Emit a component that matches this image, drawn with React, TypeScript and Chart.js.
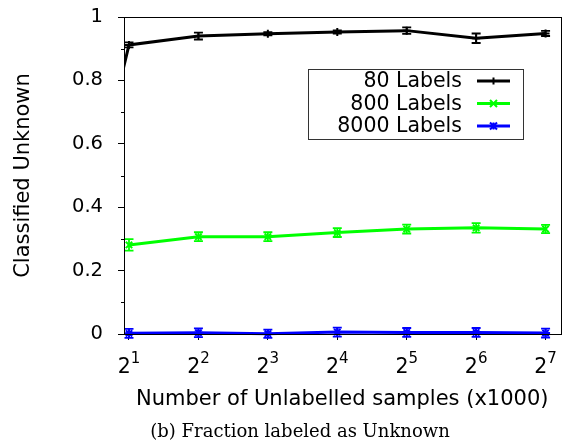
import React, { useEffect, useRef } from "react";
import { Chart, registerables } from "chart.js";

Chart.register(...registerables);

// ---- data ----
const xExponents = [1, 2, 3, 4, 5, 6, 7];
const xTickBase = "2";
const xTickExponents = ["1", "2", "3", "4", "5", "6", "7"];
const yTickValues = [0, 0.1, 0.2, 0.3, 0.4, 0.5, 0.6, 0.7, 0.8, 0.9, 1];
const yTickLabels = ["0", "", "0.2", "", "0.4", "", "0.6", "", "0.8", "", "1"];
const seriesNames = ["80 Labels", "800 Labels", "8000 Labels"];

const x80 = [0, 1, 2, 3, 4, 5, 6, 7];
const labels80 = [0, 0.912, 0.94, 0.947, 0.953, 0.957, 0.933, 0.948];
const err80 = [0, 0.008, 0.011, 0.005, 0.005, 0.01, 0.015, 0.008];

const labels800 = [0.281, 0.307, 0.307, 0.32, 0.331, 0.335, 0.331];
const err800 = [0.018, 0.014, 0.014, 0.014, 0.014, 0.015, 0.013];

const labels8000 = [0.002, 0.004, 0.001, 0.006, 0.005, 0.005, 0.003];
const err8000 = [0.014, 0.014, 0.013, 0.014, 0.014, 0.014, 0.014];

const xTitle = "Number of Unlabelled samples (x1000)";
const yTitle = "Classified Unknown";
const caption = "(b) Fraction labeled as Unknown";

const SANS = "'DejaVu Sans', Verdana, sans-serif";
const SERIF = "'DejaVu Serif', serif";

const errorBars = [err80, err800, err8000];

const toPoints = (xs: number[], ys: number[]) => ys.map((y, i) => ({ x: xs[i], y }));

const errorBarPlugin = {
  id: "errorBars",
  afterDatasetsDraw(chart: any) {
    const { ctx, chartArea, scales } = chart;
    const xs = scales.x;
    const ys = scales.y;
    ctx.save();
    ctx.beginPath();
    ctx.rect(chartArea.left, chartArea.top - 6, chartArea.right - chartArea.left + 8, chartArea.bottom - chartArea.top + 14);
    ctx.clip();
    chart.data.datasets.forEach((ds: any, di: number) => {
      const errs = errorBars[di];
      ctx.strokeStyle = ds.borderColor;
      ctx.lineWidth = 1.8;
      ds.data.forEach((p: any, i: number) => {
        const e = errs[i];
        if (!e) return;
        if (p.x < xs.min || p.x > xs.max) return;
        const px = xs.getPixelForValue(p.x);
        const y1 = ys.getPixelForValue(p.y - e);
        const y2 = ys.getPixelForValue(p.y + e);
        ctx.beginPath();
        ctx.moveTo(px, y1);
        ctx.lineTo(px, y2);
        ctx.moveTo(px - 4.5, y1);
        ctx.lineTo(px + 4.5, y1);
        ctx.moveTo(px - 4.5, y2);
        ctx.lineTo(px + 4.5, y2);
        ctx.stroke();
      });
    });
    ctx.restore();
  },
};

const drawMarker = (ctx: any, style: string, x: number, y: number, r: number) => {
  ctx.beginPath();
  if (style === "cross") {
    ctx.moveTo(x - r, y);
    ctx.lineTo(x + r, y);
    ctx.moveTo(x, y - r);
    ctx.lineTo(x, y + r);
  } else if (style === "crossRot") {
    ctx.moveTo(x - r, y - r);
    ctx.lineTo(x + r, y + r);
    ctx.moveTo(x - r, y + r);
    ctx.lineTo(x + r, y - r);
  } else {
    ctx.moveTo(x - r, y);
    ctx.lineTo(x + r, y);
    ctx.moveTo(x, y - r);
    ctx.lineTo(x, y + r);
    ctx.moveTo(x - r, y - r);
    ctx.lineTo(x + r, y + r);
    ctx.moveTo(x - r, y + r);
    ctx.lineTo(x + r, y - r);
  }
  ctx.stroke();
};

const frameLegendPlugin = {
  id: "frameLegend",
  afterDraw(chart: any) {
    const { ctx, chartArea, scales } = chart;
    ctx.save();
    // full border box
    ctx.strokeStyle = "#000";
    ctx.lineWidth = 1;
    ctx.strokeRect(
      Math.round(chartArea.left) + 0.5,
      Math.round(chartArea.top) + 0.5,
      Math.round(chartArea.right - chartArea.left),
      Math.round(chartArea.bottom - chartArea.top)
    );

    // minor y ticks (shorter)
    ctx.beginPath();
    yTickValues.forEach((v, i) => {
      if (yTickLabels[i] !== "") return;
      const py = Math.round(scales.y.getPixelForValue(v)) + 0.5;
      ctx.moveTo(chartArea.left - 3, py);
      ctx.lineTo(chartArea.left, py);
    });
    ctx.stroke();

    // x tick labels: base with superscript exponent
    ctx.fillStyle = "#000";
    ctx.textBaseline = "alphabetic";
    ctx.textAlign = "left";
    xExponents.forEach((v, i) => {
      const px = scales.x.getPixelForValue(v);
      ctx.font = `20.5px ${SANS}`;
      const bw = ctx.measureText(xTickBase).width;
      ctx.font = `15px ${SANS}`;
      const ew = ctx.measureText(xTickExponents[i]).width;
      const start = px - (bw + ew) / 2;
      ctx.font = `20.5px ${SANS}`;
      ctx.fillText(xTickBase, start, chartArea.bottom + 39);
      ctx.font = `15px ${SANS}`;
      ctx.fillText(xTickExponents[i], start + bw, chartArea.bottom + 29);
    });

    // legend
    const boxL = chartArea.left + 184;
    const boxT = chartArea.top + 52;
    const boxW = 215;
    const boxH = 70;
    ctx.strokeStyle = "#333";
    ctx.strokeRect(Math.round(boxL) + 0.5, Math.round(boxT) + 0.5, boxW, boxH);
    ctx.font = `20.5px ${SANS}`;
    ctx.fillStyle = "#000";
    ctx.textAlign = "right";
    ctx.textBaseline = "middle";
    chart.data.datasets.forEach((ds: any, i: number) => {
      const y = boxT + 12 + i * 22.5;
      ctx.fillText(ds.label, boxL + 154, y + 1);
      ctx.strokeStyle = ds.borderColor;
      ctx.lineWidth = 3;
      ctx.beginPath();
      ctx.moveTo(boxL + 169, y);
      ctx.lineTo(boxL + 202, y);
      ctx.stroke();
      ctx.lineWidth = 2;
      drawMarker(ctx, ds.pointStyle, boxL + 185.5, y, 3.5);
    });

    // caption
    ctx.font = `18px ${SERIF}`;
    ctx.textAlign = "center";
    ctx.textBaseline = "middle";
    ctx.fillStyle = "#000";
    ctx.fillText(caption, 300, chart.height - 12);
    ctx.restore();
  },
};

const datasetClip = { left: 0, top: 6, right: 8, bottom: 8 };

export default function App() {
  const ref = useRef<HTMLCanvasElement | null>(null);

  useEffect(() => {
    if (!ref.current) return;
    const chart = new Chart(ref.current, {
      type: "line",
      data: {
        datasets: [
          {
            label: seriesNames[0],
            data: toPoints(x80, labels80),
            borderColor: "#000000",
            backgroundColor: "#000000",
            borderWidth: 3,
            pointStyle: "cross",
            pointRadius: 4,
            pointBorderWidth: 2,
            clip: datasetClip,
          },
          {
            label: seriesNames[1],
            data: toPoints(xExponents, labels800),
            borderColor: "#00ff00",
            backgroundColor: "#00ff00",
            borderWidth: 3,
            pointStyle: "crossRot",
            pointRadius: 4.5,
            pointBorderWidth: 2,
            clip: datasetClip,
          },
          {
            label: seriesNames[2],
            data: toPoints(xExponents, labels8000),
            borderColor: "#0000ff",
            backgroundColor: "#0000ff",
            borderWidth: 3,
            pointStyle: "star",
            pointRadius: 4.5,
            pointBorderWidth: 2,
            clip: datasetClip,
          },
        ],
      },
      options: {
        animation: false,
        responsive: false,
        layout: { padding: { top: 17, right: 5, left: 0, bottom: 30 } },
        plugins: {
          legend: { display: false },
          tooltip: { enabled: false },
          title: { display: false },
        },
        scales: {
          x: {
            type: "linear",
            min: 0.928,
            max: 7.215,
            afterBuildTicks: (s: any) => {
              s.ticks = xExponents.map((v) => ({ value: v }));
            },
            afterFit: (s: any) => {
              s.height = 80;
              s.paddingLeft = 0;
              s.paddingRight = 0;
            },
            ticks: { display: false, autoSkip: false, maxRotation: 0 },
            grid: { drawOnChartArea: false, tickLength: 6, color: "#000", tickColor: "#000" },
            border: { color: "#000", width: 1 },
            title: {
              display: true,
              text: xTitle,
              color: "#000",
              font: { family: SANS, size: 21 },
              padding: 2,
            },
          },
          y: {
            type: "linear",
            min: 0,
            max: 1,
            afterBuildTicks: (s: any) => {
              s.ticks = yTickValues.map((v) => ({ value: v }));
            },
            afterFit: (s: any) => {
              s.width = 124;
              s.paddingTop = 0;
              s.paddingBottom = 0;
            },
            ticks: {
              callback: (v: any, i: number) => yTickLabels[i],
              color: "#000",
              font: { family: SANS, size: 19.5 },
              padding: 15,
              autoSkip: false,
            },
            grid: {
              drawOnChartArea: false,
              tickLength: 6,
              color: "#000",
              tickColor: (c: any) => (yTickLabels[c.index] === "" ? "rgba(0,0,0,0)" : "#000"),
            },
            border: { color: "#000", width: 1 },
            title: {
              display: true,
              text: yTitle,
              color: "#000",
              font: { family: SANS, size: 21 },
              padding: 11,
            },
          },
        },
      },
      plugins: [errorBarPlugin, frameLegendPlugin],
    } as any);
    return () => chart.destroy();
  }, []);

  return (
    <div style={{ position: "absolute", left: 0, top: 0, width: 567, height: 444, background: "#fff" }}>
      <canvas ref={ref} width={567} height={444} style={{ display: "block" }} />
    </div>
  );
}
